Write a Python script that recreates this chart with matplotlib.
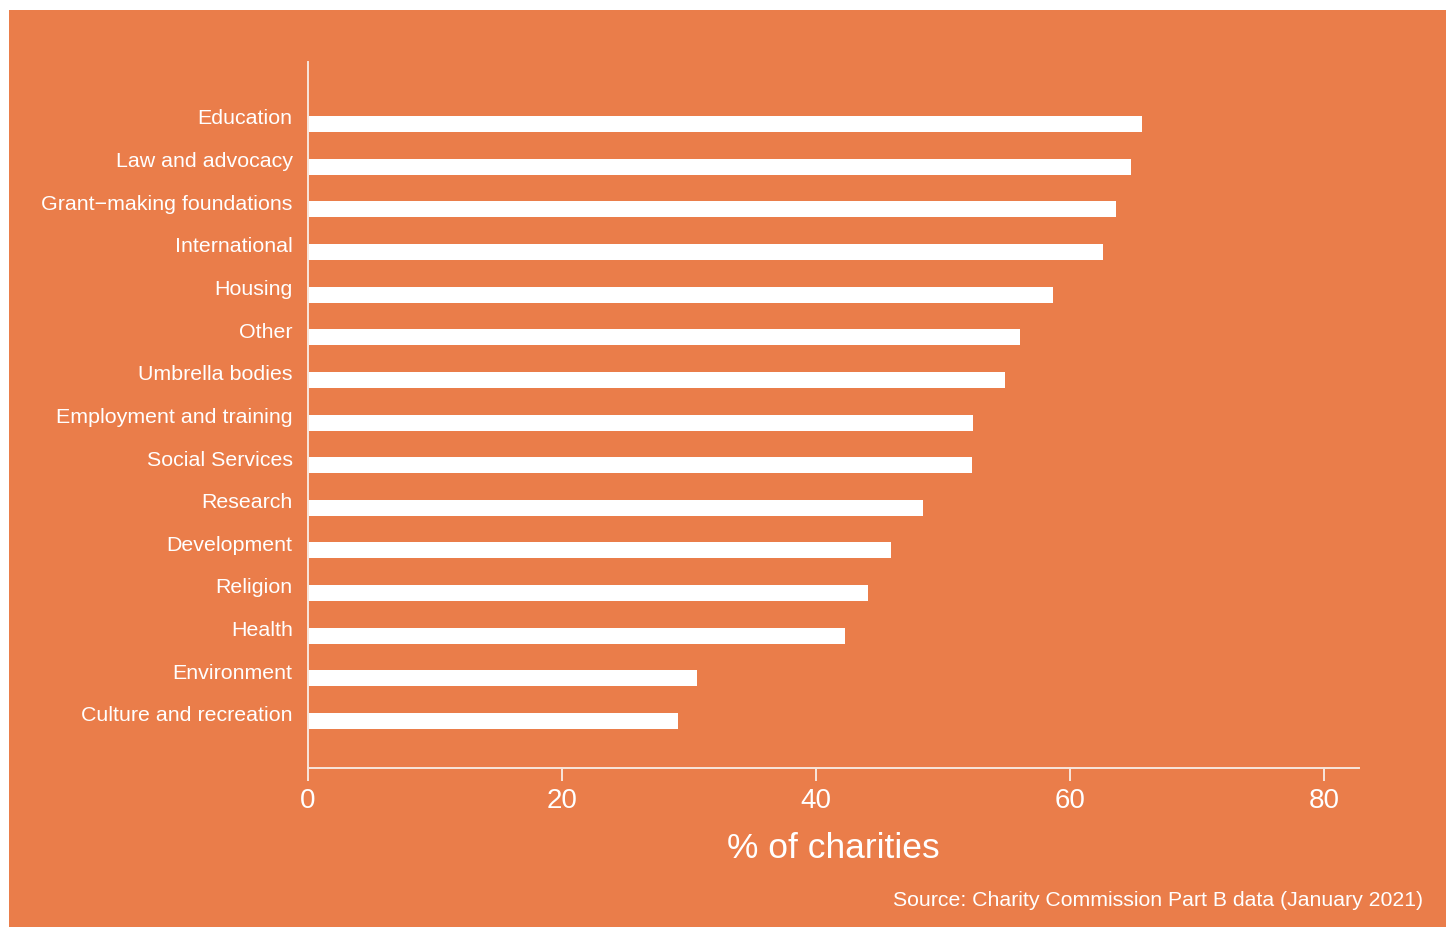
import matplotlib
matplotlib.use("Agg")
import matplotlib.pyplot as plt
from matplotlib.patches import Rectangle
import numpy as np

categories = [
    "Education", "Law and advocacy", "Grant\u2212making foundations", "International",
    "Housing", "Other", "Umbrella bodies", "Employment and training",
    "Social Services", "Research", "Development", "Religion", "Health",
    "Environment", "Culture and recreation",
]
values = [65.7, 64.8, 63.6, 62.6, 58.7, 56.1, 54.9, 52.4, 52.3, 48.4, 45.9, 44.1, 42.3, 30.6, 29.1]
xticks = [0, 20, 40, 60, 80]

ORANGE = "#EA7D4A"
WHITE = "#FFFFFF"
AXC = "#F8E6DC"

plt.rcParams['font.family'] = ['Liberation Sans', 'DejaVu Sans']

fig = plt.figure(figsize=(14.52, 9.27), dpi=100)
fig.patch.set_facecolor("white")
bg = Rectangle((9 / 1452, 0), (1446 - 9) / 1452, (927 - 10) / 927,
               transform=fig.transFigure, facecolor=ORANGE, edgecolor="none", zorder=-10)
fig.patches.append(bg)

ax = fig.add_axes([308 / 1452, (927 - 768) / 927, (1359 - 308) / 1452, (768 - 62) / 927])
ax.set_zorder(5)
ax.set_facecolor("none")

n = len(categories)
pos = np.arange(n)[::-1]
bh = 0.375
ax.barh(pos - bh + 0.02, values, height=bh, align="edge", color=WHITE, edgecolor="none", zorder=2)

ax.set_yticks(pos)
ax.set_yticklabels(categories)
ax.set_ylim(-1.27, n - 1 + 1.29)
ax.set_xlim(0, 82.76)
ax.set_xticks(xticks)
ax.set_xticklabels([str(t) for t in xticks])

for s in ["top", "right"]:
    ax.spines[s].set_visible(False)
for s in ["left", "bottom"]:
    ax.spines[s].set_color(AXC)
    ax.spines[s].set_linewidth(1.4)

ax.tick_params(axis="y", length=0, pad=11, labelsize=15.4, labelcolor=WHITE)
ax.tick_params(axis="x", length=9.5, width=1.4, color=AXC, pad=5, labelsize=20, labelcolor=WHITE)

ax.set_xlabel("% of charities", fontsize=25.5, color=WHITE, labelpad=13)

fig.text(1423 / 1452, (927 - 901) / 927, "Source: Charity Commission Part B data (January 2021)",
         ha="right", va="center", fontsize=15.3, color=WHITE, zorder=6)

fig.savefig("out.png", dpi=100, facecolor=fig.get_facecolor())
